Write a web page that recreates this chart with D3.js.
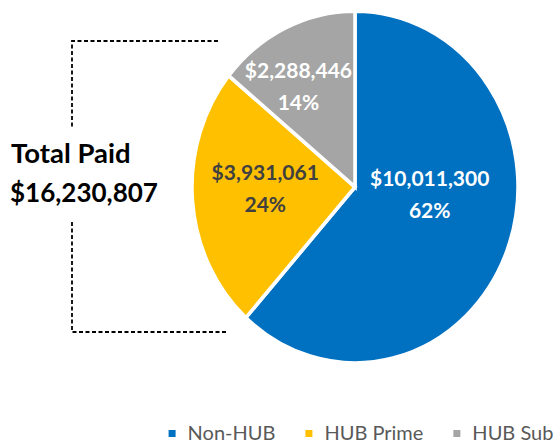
<!DOCTYPE html>
<html>
<head>
<meta charset="utf-8">
<script src="https://cdn.jsdelivr.net/npm/d3@7"></script>
<style>
  body { margin: 0; background: #fff; }
  svg { display: block; font-family: Lato, "Open Sans", sans-serif; }
</style>
</head>
<body>
<div id="chart"></div>
<script>
// data
var categories = ["Non-HUB", "HUB Prime", "HUB Sub"];
var paid = [10011300, 3931061, 2288446];
var colors = ["#0070C0", "#FFC000", "#A5A5A5"];
var labelColors = ["#ffffff", "#404040", "#ffffff"];
var labelRadius = [80, 90, 97];              // how far in the slice the label sits
var labelNudge = [[0, -18], [0, 0], [-15, 0]]; // small hand tweaks, like excel "best fit"

var W = 558, H = 445;
var cx = 355, cy = 187;
var R = 163, yStretch = 176 / 163; // excel drew it a bit taller than wide

var svg = d3.select("#chart").append("svg")
    .attr("width", W).attr("height", H);

var total = d3.sum(paid);
var fmtMoney = d3.format("$,");
var fmtPct = d3.format(".0%");

var rows = categories.map(function (c, i) {
    return { name: c, value: paid[i], i: i };
});

var pie = d3.pie().sort(null).value(function (d) { return d.value; });
var arcs = pie(rows);
var arc = d3.arc().innerRadius(0).outerRadius(R);

var g = svg.append("g")
    .attr("transform", "translate(" + cx + "," + cy + ") scale(1," + yStretch + ")");

g.selectAll("path.slice")
    .data(arcs)
    .enter()
    .append("path")
    .attr("class", "slice")
    .attr("d", arc)
    .attr("fill", function (d) { return colors[d.data.i]; })
    .attr("stroke", "#fff")
    .attr("stroke-width", 3.5)
    .attr("stroke-linejoin", "miter");

// slice labels (two lines: amount, percent)
var lab = svg.selectAll("g.lab")
    .data(arcs)
    .enter()
    .append("g")
    .attr("class", "lab")
    .attr("transform", function (d) {
        var r = labelRadius[d.data.i];
        var c = d3.arc().innerRadius(r).outerRadius(r).centroid(d);
        var n = labelNudge[d.data.i];
        return "translate(" + (cx + c[0] + n[0]) + "," + (cy + c[1] * yStretch + n[1]) + ")";
    });

lab.append("text")
    .attr("text-anchor", "middle")
    .attr("y", -14)
    .attr("font-size", 21)
    .attr("font-weight", 700)
    .attr("fill", function (d) { return labelColors[d.data.i]; })
    .text(function (d) { return fmtMoney(d.data.value); });

lab.append("text")
    .attr("text-anchor", "middle")
    .attr("y", 18)
    .attr("font-size", 21)
    .attr("font-weight", 700)
    .attr("fill", function (d) { return labelColors[d.data.i]; })
    .text(function (d) { return fmtPct(d.data.value / total); });

// total annotation with dashed bracket
svg.append("path")
    .attr("d", "M218,41 H72 V128 M72,222 V332 H228")
    .attr("fill", "none")
    .attr("stroke", "#000")
    .attr("stroke-width", 1.8)
    .attr("stroke-dasharray", "4,2.5");

svg.append("text")
    .attr("x", 11).attr("y", 163)
    .attr("font-size", 27.5).attr("font-weight", 700)
    .attr("fill", "#000")
    .text("Total Paid");

svg.append("text")
    .attr("x", 10).attr("y", 202)
    .attr("font-size", 26).attr("font-weight", 700)
    .attr("fill", "#000")
    .text(fmtMoney(total));

// legend
var leg = svg.append("g");
var item = leg.selectAll("g.item")
    .data(categories)
    .enter()
    .append("g")
    .attr("class", "item");

item.append("rect")
    .attr("width", 7).attr("height", 7)
    .attr("y", -10)
    .attr("fill", function (d, i) { return colors[i]; });

item.append("text")
    .attr("x", 19)
    .attr("font-size", 20)
    .attr("fill", "#595959")
    .text(function (d) { return d; });

var x = 0;
item.each(function () {
    var w = d3.select(this).select("text").node().getComputedTextLength() + 19;
    d3.select(this).attr("transform", "translate(" + x + ",0)");
    x += w + 30;
});
x -= 30;
leg.attr("transform", "translate(" + (361 - x / 2) + ",440)");
</script>
</body>
</html>
